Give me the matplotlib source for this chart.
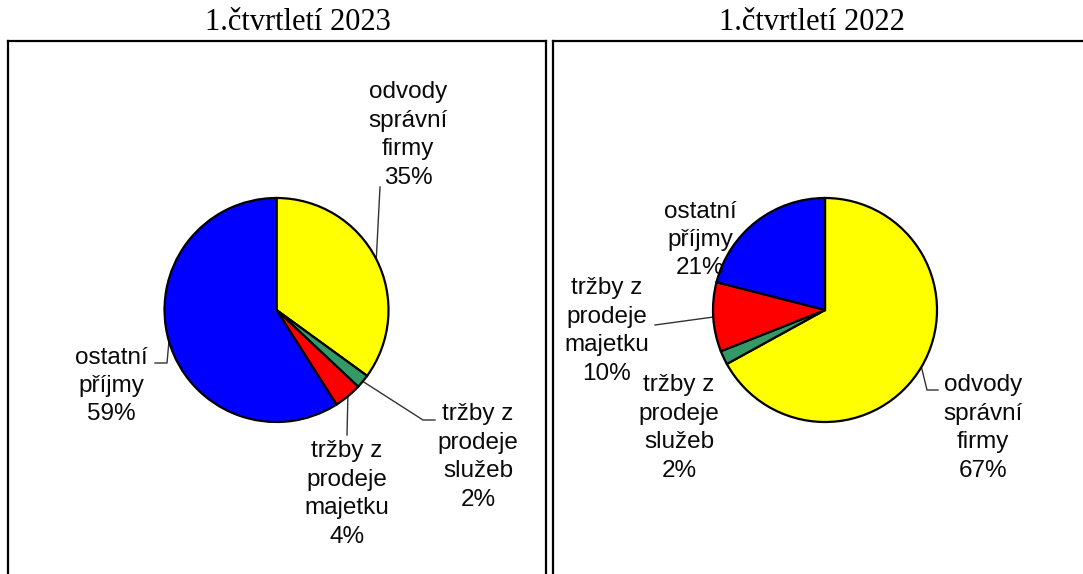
import matplotlib
matplotlib.use("Agg")
import matplotlib.pyplot as plt
import numpy as np

# ---------------- data ----------------
titles = ["1.čtvrtletí 2023", "1.čtvrtletí 2022"]
categories = ["odvody\nsprávní\nfirmy", "tržby z\nprodeje\nslužeb",
              "tržby z\nprodeje\nmajetku", "ostatní\npříjmy"]
values_2023 = [35, 2, 4, 59]
values_2022 = [67, 2, 10, 21]
colors = ["#FFFF00", "#339966", "#FF0000", "#0000FF"]

# ---------------- layout (pixels) ----------------
W, H = 1083, 574
R = 112.0  # pie radius in pixels

panels = [
    dict(box=(8, 41, 546, 574), center=(276.5, 310), values=values_2023,
         title_x=298,
         labels=[(408, 135), (478, 457), (347, 494), (111, 386)],
         leaders=[[(380, 187)], [(423, 420), (435, 420)], [(347, 435)],
                  [(167, 363), (155, 363)]],
         hide_right=False),
    dict(box=(553, 41, 1090, 574), center=(825, 310), values=values_2022,
         title_x=812,
         labels=[(983, 428), (679, 428), (607, 331), (700, 240)],
         leaders=[[(927, 390), (938, 390)], None, [(655, 325)], None],
         hide_right=True),
]

fig = plt.figure(figsize=(W / 100, H / 100), dpi=100)
fig.patch.set_facecolor("white")

label_font = dict(family=["Liberation Sans", "DejaVu Sans"], size=17.5, color="#0a0a0a")

for p, title in zip(panels, titles):
    x0, y0, x1, y1 = p["box"]
    cx, cy = p["center"]
    ax = fig.add_axes([x0 / W, 1 - y1 / H, (x1 - x0) / W, (y1 - y0) / H])
    wedges, _ = ax.pie(p["values"], colors=colors, startangle=90, counterclock=False,
                       radius=1.0,
                       wedgeprops=dict(edgecolor="black", linewidth=1.6))
    ax.set_aspect("auto")
    ax.set_xlim((x0 - cx) / R, (x1 - cx) / R)
    ax.set_ylim((cy - y1) / R, (cy - y0) / R)
    ax.set_frame_on(True)
    ax.set_xticks([])
    ax.set_yticks([])
    for s in ax.spines.values():
        s.set_linewidth(1.6)
        s.set_color("black")
    ax.spines["bottom"].set_visible(False)
    if p["hide_right"]:
        ax.spines["right"].set_visible(False)

    total = sum(p["values"])
    for w, cat, v, (lx, ly), lead in zip(wedges, categories, p["values"],
                                        p["labels"], p["leaders"]):
        ax.text((lx - cx) / R, (cy - ly) / R, f"{cat}\n{round(100 * v / total)}%",
                ha="center", va="center", multialignment="center",
                linespacing=1.38, **label_font)
        if lead:
            th = np.deg2rad((w.theta1 + w.theta2) / 2)
            xs = [np.cos(th)] + [(px - cx) / R for px, _ in lead]
            ys = [np.sin(th)] + [(cy - py) / R for _, py in lead]
            ax.plot(xs, ys, color="#333333", lw=1.0, zorder=0.5, clip_on=False)

    fig.text(p["title_x"] / W, 1 - 23 / H, title, ha="center", va="center",
             family=["Liberation Serif", "DejaVu Serif"], size=22, color="black")

fig.savefig("out.png", dpi=100, facecolor="white")
